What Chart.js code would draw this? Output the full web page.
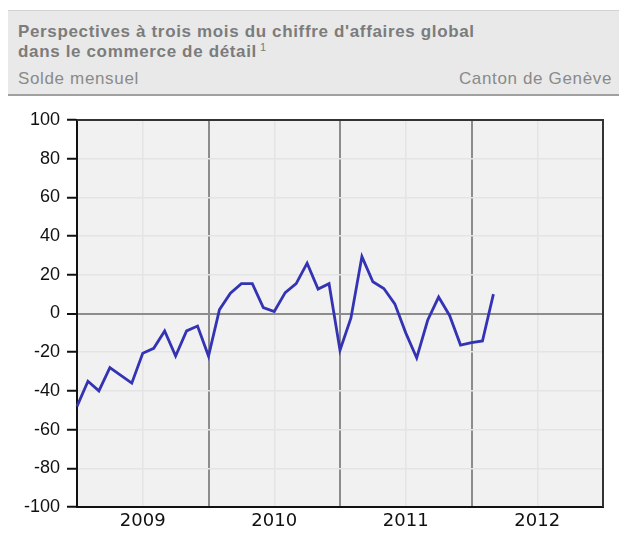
<!DOCTYPE html>
<html>
<head>
<meta charset="utf-8">
<script src="https://cdn.jsdelivr.net/npm/chart.js@4"></script>
<style>
  body { margin: 0; width: 619px; height: 535px; background: #fff; position: relative; overflow: hidden; }
  #head {
    position: absolute; left: 8px; top: 10px; right: 0; height: 83px;
    background: #e9e9e9; border-top: 1px solid #d2d2d2; border-bottom: 2px solid #a0a0a0;
    font-family: "Liberation Sans", Arial, sans-serif; color: #7c7c7c;
    font-size: 17px; line-height: 17px; letter-spacing: 0.65px;
  }
  #title { position: absolute; left: 10px; top: 11px; font-weight: bold; line-height: 20px; }
  #title sup { font-size: 11px; font-weight: normal; vertical-align: 6px; line-height: 0; letter-spacing: 0; }
  #sub { position: absolute; left: 10px; top: 59px; color: #8a8a8a; }
  #place { position: absolute; right: 7px; top: 59px; color: #8a8a8a; }
  #wrap { position: absolute; left: 0; top: 100px; width: 619px; height: 435px; }
</style>
</head>
<body>
<div id="head">
  <div id="title">Perspectives à trois mois du chiffre d'affaires global<br>dans le commerce de détail<sup> 1</sup></div>
  <div id="sub">Solde mensuel</div>
  <div id="place">Canton de Genève</div>
</div>
<div id="wrap"><canvas id="chart" width="619" height="435"></canvas></div>
<script>
"strict";

// monthly observations, Jan 2009 - Mar 2012
const months = [
  "2009-01", "2009-02", "2009-03", "2009-04", "2009-05", "2009-06",
  "2009-07", "2009-08", "2009-09", "2009-10", "2009-11", "2009-12",
  "2010-01", "2010-02", "2010-03", "2010-04", "2010-05", "2010-06",
  "2010-07", "2010-08", "2010-09", "2010-10", "2010-11", "2010-12",
  "2011-01", "2011-02", "2011-03", "2011-04", "2011-05", "2011-06",
  "2011-07", "2011-08", "2011-09", "2011-10", "2011-11", "2011-12",
  "2012-01", "2012-02", "2012-03",
];
const solde = [
  -48, -35, -40, -28, -32, -36, -20.5, -18, -9, -22, -9, -6.5,
  -22, 2, 10.5, 15.4, 15.4, 3, 1, 10.8, 15.4, 26, 12.6, 15.4,
  -19, -2.3, 29.4, 16.4, 12.9, 5, -10, -23, -3.5, 8.5, -1, -16.3,
  -15, -14.2, 10,
];
const yearLabels = ["2009", "2010", "2011", "2012"];
const yTicks = [-100, -80, -60, -40, -20, 0, 20, 40, 60, 80, 100];

const firstYear = Number(yearLabels[0]);

// month string -> months since Jan of first year
function monthIndex(m) {
  const [y, mo] = m.split("-").map(Number);
  return (y - firstYear) * 12 + (mo - 1);
}

const points = months.map((m, i) => ({ x: monthIndex(m), y: solde[i] }));

const plotFrame = {
  id: "plotFrame",
  beforeDraw(chart) {
    const { ctx, chartArea: a } = chart;
    ctx.save();
    ctx.fillStyle = "#f1f1f1";
    ctx.fillRect(a.left, a.top, a.right - a.left, a.bottom - a.top);
    ctx.restore();
  },
  afterDatasetsDraw(chart) {
    const { ctx, chartArea: a } = chart;
    ctx.save();
    ctx.strokeStyle = "#333";
    ctx.lineWidth = 2;
    ctx.beginPath();
    ctx.moveTo(a.left, a.top);
    ctx.lineTo(a.right, a.top);
    ctx.lineTo(a.right, a.bottom);
    ctx.stroke();
    ctx.restore();
  },
};

const ctx = document.getElementById("chart").getContext("2d");

new Chart(ctx, {
  type: "line",
  data: {
    datasets: [
      {
        data: points,
        borderColor: "#3333b3",
        borderWidth: 2.8,
        pointRadius: 0,
        tension: 0,
        clip: false,
      },
    ],
  },
  options: {
    responsive: false,
    animation: false,
    layout: { padding: { left: 8, right: 16, top: 20, bottom: 0 } },
    plugins: { legend: { display: false }, tooltip: { enabled: false } },
    scales: {
      x: {
        type: "linear",
        min: 0,
        max: yearLabels.length * 12,
        afterBuildTicks: (scale) => {
          const t = [];
          for (let v = 0; v <= yearLabels.length * 12; v += 6) t.push({ value: v });
          scale.ticks = t;
        },
        afterFit: (scale) => { scale.height = 28; },
        ticks: {
          autoSkip: false,
          maxRotation: 0,
          padding: 4,
          color: "#111",
          font: { family: "DejaVu Sans", size: 18 },
          callback: (v) => (v % 12 === 6 ? yearLabels[(v - 6) / 12] : ""),
        },
        grid: {
          drawTicks: false,
          color: (c) => (c.tick && c.tick.value % 12 === 0 ? "#8c8c8c" : "#e4e4e4"),
          lineWidth: (c) => (c.tick && c.tick.value % 12 === 0 ? 2 : 1.5),
        },
        border: { color: "#111", width: 2 },
      },
      y: {
        min: -100,
        max: 100,
        afterBuildTicks: (scale) => { scale.ticks = yTicks.map((v) => ({ value: v })); },
        afterFit: (scale) => { scale.width = 69; },
        ticks: {
          padding: 7,
          color: "#111",
          font: { family: "Liberation Sans", size: 18 },
        },
        grid: {
          tickLength: 10,
          tickColor: "#111",
          tickWidth: 2,
          color: (c) => (c.tick && c.tick.value === 0 ? "#8c8c8c" : "#e4e4e4"),
          lineWidth: (c) => (c.tick && c.tick.value === 0 ? 2 : 1.5),
        },
        border: { color: "#111", width: 2 },
      },
    },
  },
  plugins: [plotFrame],
});
</script>
</body>
</html>
